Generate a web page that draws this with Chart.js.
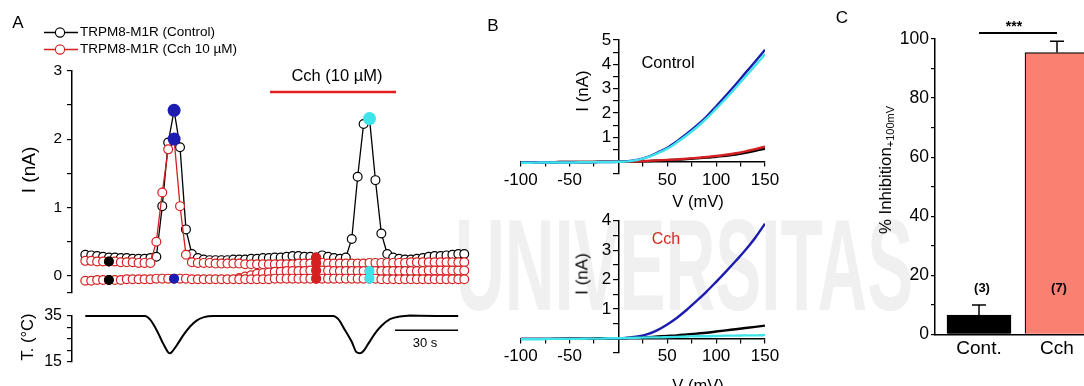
<!DOCTYPE html>
<html>
<head>
<meta charset="utf-8">
<title>TRPM8-M1R inhibition by carbachol</title>
<script src="https://cdn.jsdelivr.net/npm/chart.js@4.4.1/dist/chart.umd.min.js"></script>
<style>
  html, body { margin: 0; padding: 0; background: #fff; }
  body { position: relative; width: 1084px; height: 386px; overflow: hidden;
         font-family: 'Liberation Sans', Arial, sans-serif; color: #000; }
  canvas { position: absolute; left: 0; top: 0; }
  .lbl { position: absolute; transform: translate(-50%, -50%); white-space: nowrap; line-height: 1; }
  .rot { transform: translate(-50%, -50%) rotate(-90deg); }
  .wm { position: absolute; left: 455px; top: 200px; font-weight: bold; font-size: 130px; line-height: 1;
        color: #f0f0f0; transform-origin: 0 0; transform: scaleX(0.53); white-space: nowrap; }
  .key { position: absolute; left: 44px; }
  .keytxt { position: absolute; left: 80px; font-size: 13.5px; line-height: 1; transform: translateY(-50%); white-space: nowrap; }
</style>
</head>
<body>
<div class="wm">UNIVERSITAS</div>

<canvas id="chartA" width="1084" height="386"></canvas>
<canvas id="chartT" width="1084" height="386"></canvas>
<canvas id="chartB1" width="1084" height="386"></canvas>
<canvas id="chartB2" width="1084" height="386"></canvas>
<canvas id="chartC" width="1084" height="386"></canvas>

<!-- panel A annotations -->
<div class="lbl" style="left:18px;top:22px;font-size:17px">A</div>
<svg class="key" style="top:26px" width="36" height="13"><line x1="0" y1="6.5" x2="34" y2="6.5" stroke="#000" stroke-width="1.3"/><circle cx="16" cy="6.5" r="4.6" fill="#fff" stroke="#000" stroke-width="1.1"/></svg>
<div class="keytxt" style="top:32px">TRPM8-M1R (Control)</div>
<svg class="key" style="top:43px" width="36" height="13"><line x1="0" y1="6.5" x2="34" y2="6.5" stroke="#d42020" stroke-width="1.3"/><circle cx="16" cy="6.5" r="4.6" fill="#fff" stroke="#d42020" stroke-width="1.1"/></svg>
<div class="keytxt" style="top:49px">TRPM8-M1R (Cch 10 µM)</div>
<div class="lbl" style="left:337px;top:75px;font-size:16.5px">Cch (10 µM)</div>
<div class="lbl rot" style="left:28px;top:170px;font-size:19px">I (nA)</div>
<div class="lbl rot" style="left:27px;top:337px;font-size:16.5px">T. (°C)</div>
<div class="lbl" style="left:425px;top:342px;font-size:13px">30 s</div>

<!-- panel B annotations -->
<div class="lbl" style="left:493px;top:25px;font-size:17px">B</div>
<div class="lbl" style="left:668px;top:62px;font-size:16.5px">Control</div>
<div class="lbl rot" style="left:582px;top:91px;font-size:17px">I (nA)</div>
<div class="lbl" style="left:698px;top:201px;font-size:16.5px">V (mV)</div>
<div class="lbl" style="left:666px;top:239px;font-size:16px;color:#d42a1f">Cch</div>
<div class="lbl rot" style="left:582px;top:274px;font-size:17px">I (nA)</div>
<div class="lbl" style="left:698px;top:385px;font-size:16.5px">V (mV)</div>

<!-- panel C annotations -->
<div class="lbl" style="left:842px;top:17px;font-size:17px">C</div>
<div class="lbl rot" style="left:887px;top:170px;font-size:16.8px">% Inhibition<sub style="font-size:11px;vertical-align:-3px">+100mV</sub></div>
<div class="lbl" style="left:1014px;top:26px;font-size:14px;font-weight:bold">***</div>
<div class="lbl" style="left:982px;top:287px;font-size:13px;font-weight:bold">(3)</div>
<div class="lbl" style="left:1059px;top:287px;font-size:13px;font-weight:bold">(7)</div>

<script>
/* ----------------------------------------------------------
   Data – panel A, one value per sweep (every DT seconds)
   ---------------------------------------------------------- */
const DT = 2.82;

// +100 mV current, control cell (nA)
const ctrlUp = [
  0.31, 0.30, 0.29, 0.28, 0.27, 0.27, 0.26, 0.26, 0.25, 0.25,
  0.25, 0.26, 0.28, 1.02, 1.95, 2.42, 1.88, 0.68, 0.32, 0.26,
  0.24, 0.23, 0.23, 0.23, 0.23, 0.24, 0.24, 0.24, 0.25, 0.25,
  0.26, 0.26, 0.27, 0.27, 0.28, 0.29, 0.29, 0.28, 0.28, 0.27,
  0.30, 0.28, 0.26, 0.25, 0.27, 0.54, 1.45, 2.22, 2.30, 1.40,
  0.62, 0.32, 0.27, 0.25, 0.24, 0.24, 0.25, 0.26, 0.28, 0.29,
  0.29, 0.30, 0.31, 0.32, 0.32,
];

// +100 mV current, Cch cell (nA)
const cchUp = [
  0.22, 0.22, 0.21, 0.21, 0.21, 0.21, 0.20, 0.20, 0.20, 0.19,
  0.19, 0.19, 0.50, 1.22, 1.85, 2.00, 1.02, 0.31, 0.20, 0.19,
  0.19, 0.19, 0.18, 0.18, 0.18, 0.18, 0.18, 0.17, 0.17, 0.17,
  0.17, 0.17, 0.17, 0.17, 0.17, 0.17, 0.18, 0.18, 0.18, 0.19,
  0.19, 0.18, 0.18, 0.18, 0.18, 0.18, 0.18, 0.18, 0.19, 0.19,
  0.19, 0.19, 0.19, 0.19, 0.19, 0.20, 0.20, 0.20, 0.20, 0.20,
  0.20, 0.20, 0.20, 0.20, 0.20,
];

// low row that lifts off the baseline late in the record (nA)
const cchMid = [
  null, null, null, null, null, null, null, null, null, null,
  null, null, null, null, null, null, null, null, null, null,
  null, null, null, null, null, null, -0.03, -0.01, 0.01, 0.03,
  0.04, 0.05, 0.06, 0.06, 0.07, 0.07, 0.07, 0.07, 0.08, 0.08,
  0.08, 0.08, 0.07, 0.07, 0.07, 0.07, 0.07, 0.07, 0.07, 0.07,
  0.07, 0.07, 0.07, 0.07, 0.07, 0.07, 0.07, 0.07, 0.08, 0.08,
  0.08, 0.08, 0.08, 0.08, 0.08,
];

// -100 mV current (nA)
const cchDown = [
  -0.07, -0.07, -0.06, -0.06, -0.06, -0.06, -0.06, -0.05, -0.05, -0.05,
  -0.05, -0.05, -0.04, -0.04, -0.04, -0.04, -0.04, -0.04, -0.05, -0.05,
  -0.05, -0.05, -0.05, -0.05, -0.05, -0.05, -0.05, -0.05, -0.05, -0.05,
  -0.05, -0.05, -0.04, -0.04, -0.04, -0.04, -0.04, -0.04, -0.04, -0.04,
  -0.04, -0.04, -0.04, -0.04, -0.04, -0.04, -0.04, -0.04, -0.04, -0.04,
  -0.05, -0.05, -0.05, -0.05, -0.05, -0.05, -0.05, -0.05, -0.05, -0.05,
  -0.05, -0.05, -0.05, -0.05, -0.05,
];

// sweeps where the I-V curves of panel B were taken
const markIdx = { black: 4, blue: 15, red: 39, cyan: 48 };

// Cch application (s)
const cchPeriod = [88, 148];

// bath temperature
const tempTime = [0, 28.4, 30.8, 34.0, 37.1, 39.5, 40.3, 41.1, 43.5, 46.7, 49.9, 53.0, 56.2, 61.0, 72,
                  118.1, 120.5, 123.7, 126.9, 129.2, 130.8, 132.4, 134.8, 138.0, 141.1, 145.1, 149.9, 154.6, 177.6];
const tempVal  = [35, 35, 33.5, 28.8, 22.9, 19.1, 18.7, 19.1, 22.1, 26.6, 30.4, 33.0, 34.4, 35.0, 35.0,
                  35.0, 33.6, 28.8, 23.7, 19.1, 18.7, 19.6, 22.9, 27.4, 30.7, 33.6, 34.8, 35.2, 35.0];

/* ----------------------------------------------------------
   Data – panel B, I-V ramps (mV, nA)
   ---------------------------------------------------------- */
const ivV = [-100, -90, -80, -70, -60, -50, -40, -30, -20, -10, 0, 10, 20,
             30, 40, 50, 60, 70, 80, 90, 100, 110, 120, 130, 140, 150];

const ivCtlBlack = [-0.02, -0.02, -0.02, -0.02, -0.01, -0.01, -0.01, -0.01, 0, 0, 0, 0.01, 0.02,
                    0.03, 0.05, 0.07, 0.09, 0.11, 0.14, 0.17, 0.21, 0.25, 0.30, 0.37, 0.45, 0.54];
const ivCtlRed   = [-0.02, -0.02, -0.02, -0.02, -0.01, -0.01, -0.01, -0.01, 0, 0, 0, 0.01, 0.02,
                    0.04, 0.06, 0.08, 0.10, 0.13, 0.16, 0.20, 0.24, 0.29, 0.35, 0.43, 0.52, 0.62];
const ivCtlBlue  = [-0.03, -0.03, -0.03, -0.03, -0.02, -0.02, -0.02, -0.02, -0.01, -0.01, 0, 0.03, 0.09,
                    0.20, 0.38, 0.58, 0.85, 1.15, 1.48, 1.85, 2.28, 2.72, 3.17, 3.65, 4.12, 4.60];
const ivCtlCyan  = [-0.04, -0.04, -0.03, -0.03, -0.03, -0.03, -0.02, -0.02, -0.01, -0.01, 0, 0.02, 0.08,
                    0.19, 0.35, 0.54, 0.80, 1.09, 1.41, 1.77, 2.18, 2.60, 3.04, 3.50, 3.95, 4.42];

const ivCchBlue  = [-0.02, -0.02, -0.02, -0.02, -0.02, -0.01, -0.01, -0.01, -0.01, 0, 0, 0.02, 0.06,
                    0.14, 0.28, 0.47, 0.70, 0.97, 1.27, 1.58, 1.92, 2.27, 2.63, 3.00, 3.42, 3.90];
const ivCchBlack = [-0.02, -0.02, -0.02, -0.02, -0.01, -0.01, -0.01, -0.01, 0, 0, 0, 0.01, 0.02,
                    0.04, 0.06, 0.08, 0.10, 0.13, 0.16, 0.19, 0.23, 0.27, 0.31, 0.35, 0.39, 0.43];
const ivCchCyan  = [-0.03, -0.03, -0.03, -0.02, -0.02, -0.02, -0.02, -0.01, -0.01, 0, 0, 0.01, 0.02,
                    0.03, 0.03, 0.04, 0.05, 0.06, 0.07, 0.07, 0.08, 0.09, 0.09, 0.10, 0.10, 0.11];

/* ----------------------------------------------------------
   Data – panel C
   ---------------------------------------------------------- */
const barCats = ['Cont.', 'Cch'];
const barPos  = [1, 2];
const barMean = [6.5, 95.4];
const barSem  = [3.4, 3.8];

/* ----------------------------------------------------------
   Tick values
   ---------------------------------------------------------- */
const aTicks  = [-0.25, 0, 0.5, 1, 1.5, 2, 2.5, 3];
const aLabels = [0, 1, 2, 3];
const tTicks  = [15, 20, 25, 30, 35];
const tLabels = [15, 35];
const bxTicks  = [-100, -75, -50, -25, 25, 50, 75, 100, 125, 150];
const bxLabels = [-100, -50, 50, 100, 150];
const b1Ticks  = [-0.5, 0.5, 1, 1.5, 2, 2.5, 3, 3.5, 4, 4.5, 5];
const b2Ticks  = [-0.5, 0.5, 1, 1.5, 2, 2.5, 3, 3.5, 4];
const bLabels  = [1, 2, 3, 4, 5];
const cTicks   = [0, 10, 20, 30, 40, 50, 60, 70, 80, 90, 100];
const cLabels  = [0, 20, 40, 60, 80, 100];

/* ----------------------------------------------------------
   Look
   ---------------------------------------------------------- */
const COLORS = {
  black: '#000000',
  red:   '#d42020',
  blue:  '#1c1cb0',
  cyan:  '#3fe3ea',
  salmon:'#fa8072',
};
const W = 1084, H = 386;
const T_MIN = -6.33, T_MAX = 185.6;   // time window of panel A (s)
const Y_AXIS_W = 40;                  // room kept for left-hand axes

Chart.defaults.font.family = "'Liberation Sans', Arial, sans-serif";
Chart.defaults.color = '#000';
Chart.defaults.animation = false;
Chart.defaults.responsive = false;
Chart.defaults.events = [];
Chart.defaults.plugins.legend.display = false;
Chart.defaults.plugins.tooltip.enabled = false;

// chart area given in page pixels; yw = width of a left-hand axis
function area(l, t, r, b, yw = 0) {
  return { autoPadding: false, padding: { left: l - yw, top: t, right: W - r, bottom: H - b } };
}

function axis(o) {
  const a = {
    type: 'linear',
    axis: o.axis,
    display: true,
    offset: false,
    position: o.position,
    min: o.min,
    max: o.max,
    afterBuildTicks: (s) => { s.ticks = o.ticks.map(v => ({ value: v })); },
    border: { display: o.line !== false, color: '#000', width: 1.5 },
    grid: {
      display: o.line !== false, offset: false, drawOnChartArea: false, drawTicks: o.drawTicks !== false,
      tickLength: o.tickLength ?? 5, color: '#000', lineWidth: 1.2,
    },
    ticks: {
      autoSkip: false, maxRotation: 0, color: '#000',
      padding: o.padding ?? 4,
      font: { size: o.fontSize || 12 },
      callback: (v) => (o.labels.includes(v) ? (o.fmt ? o.fmt(v) : String(v)) : ''),
    },
  };
  if (o.width) a.afterFit = (s) => { s.width = o.width; };
  return a;
}

const hiddenTime = { type: 'linear', display: false, min: T_MIN, max: T_MAX };

/* ----------------------------------------------------------
   Panel A – current time course
   ---------------------------------------------------------- */
const sweepT = ctrlUp.map((_, i) => i * DT);
const xy = (ys) => ys.map((y, i) => ({ x: sweepT[i], y }));

function trace(ys, color, order) {
  return {
    data: xy(ys), showLine: true, order, spanGaps: false, clip: false,
    borderColor: color, borderWidth: 1.3,
    pointRadius: 4.4, pointBorderWidth: 1.2, pointBorderColor: color, pointBackgroundColor: '#fff',
  };
}

const series = { ctrlUp, cchUp, cchMid, cchDown };
const markSpec = [
  ['cchUp', 'black'], ['cchDown', 'black'],
  ['ctrlUp', 'blue', true], ['cchUp', 'blue', true], ['cchDown', 'blue'],
  ['ctrlUp', 'red'], ['cchUp', 'red'], ['cchMid', 'red'], ['cchDown', 'red'],
  ['ctrlUp', 'cyan', true], ['cchMid', 'cyan'], ['cchDown', 'cyan'],
];
const marks = markSpec.map(([name, key, big]) => ({
  x: sweepT[markIdx[key]], y: series[name][markIdx[key]],
  c: COLORS[key], r: big ? 6.5 : 5,
}));

const cchBarPlugin = {
  id: 'cchBar',
  afterDatasetsDraw(chart) {
    const { ctx, scales: { x, y } } = chart;
    const yy = y.getPixelForValue(2.69);
    ctx.save();
    ctx.strokeStyle = '#e02020';
    ctx.lineWidth = 2.5;
    ctx.beginPath();
    ctx.moveTo(x.getPixelForValue(cchPeriod[0]), yy);
    ctx.lineTo(x.getPixelForValue(cchPeriod[1]), yy);
    ctx.stroke();
    ctx.restore();
  },
};

new Chart(document.getElementById('chartA'), {
  type: 'scatter',
  data: {
    datasets: [
      {
        data: marks.map(m => ({ x: m.x, y: m.y })), order: 0, showLine: false, clip: false,
        pointRadius: marks.map(m => m.r), pointBorderWidth: 0,
        pointBackgroundColor: marks.map(m => m.c), pointBorderColor: marks.map(m => m.c),
      },
      trace(cchDown, COLORS.red, 1),
      trace(cchMid, COLORS.red, 2),
      trace(cchUp, COLORS.red, 3),
      trace(ctrlUp, COLORS.black, 4),
    ],
  },
  options: {
    layout: area(72, 70.7, 475, 293, Y_AXIS_W),
    scales: {
      x: hiddenTime,
      y: axis({ position: 'left', width: Y_AXIS_W, min: -0.25, max: 3, ticks: aTicks, labels: aLabels,
                fontSize: 15.5, tickLength: 5, padding: 5 }),
    },
  },
  plugins: [cchBarPlugin],
});

/* ----------------------------------------------------------
   Panel A – temperature trace and 30 s scale bar
   ---------------------------------------------------------- */
const scaleBarPlugin = {
  id: 'scaleBar',
  afterDatasetsDraw(chart) {
    const { ctx, scales: { x, y } } = chart;
    const yy = y.getPixelForValue(28.8);
    ctx.save();
    ctx.strokeStyle = '#000';
    ctx.lineWidth = 1.5;
    ctx.beginPath();
    ctx.moveTo(x.getPixelForValue(147.5), yy);
    ctx.lineTo(x.getPixelForValue(177.5), yy);
    ctx.stroke();
    ctx.restore();
  },
};

new Chart(document.getElementById('chartT'), {
  type: 'scatter',
  data: {
    datasets: [{
      data: tempTime.map((t, i) => ({ x: t, y: tempVal[i] })),
      showLine: true, pointRadius: 0, borderColor: '#000', borderWidth: 2,
      cubicInterpolationMode: 'monotone', clip: false,
    }],
  },
  options: {
    layout: area(72, 316, 475, 361.7, Y_AXIS_W),
    scales: {
      x: hiddenTime,
      y: axis({ position: 'left', width: Y_AXIS_W, min: 15, max: 35, ticks: tTicks, labels: tLabels,
                fontSize: 16, tickLength: 5, padding: 5 }),
    },
  },
  plugins: [scaleBarPlugin],
});

/* ----------------------------------------------------------
   Panel B – I-V curves (axes cross at the origin)
   ---------------------------------------------------------- */
function ivLine(ys, color) {
  return {
    data: ivV.map((v, i) => ({ x: v, y: ys[i] })),
    showLine: true, pointRadius: 0, borderColor: color, borderWidth: 2.4,
    cubicInterpolationMode: 'monotone',
  };
}

function ivChart(id, box, yMax, yTicks, datasets) {
  return new Chart(document.getElementById(id), {
    type: 'scatter',
    data: { datasets },
    options: {
      layout: area(...box),
      scales: {
        x: axis({ position: { y: 0 }, min: -100, max: 150, ticks: bxTicks, labels: bxLabels,
                  fontSize: 17, tickLength: 4, padding: 4 }),
        // axis line and ticks through V = 0
        y: axis({ axis: 'y', position: { x: 0 }, min: -0.5, max: yMax, ticks: yTicks, labels: [] }),
        // its numbers, set just left of the ticks
        yNum: axis({ axis: 'y', position: { x: -7.5 }, min: -0.5, max: yMax, ticks: yTicks,
                     labels: bLabels, fontSize: 17, line: false }),
      },
    },
  });
}

ivChart('chartB1', [520.7, 40, 765, 174], 5, b1Ticks, [
  ivLine(ivCtlCyan, COLORS.cyan),
  ivLine(ivCtlBlue, COLORS.blue),
  ivLine(ivCtlRed, COLORS.red),
  ivLine(ivCtlBlack, COLORS.black),
]);

ivChart('chartB2', [520.7, 220.7, 765, 353], 4, b2Ticks, [
  ivLine(ivCchCyan, COLORS.cyan),
  ivLine(ivCchBlack, COLORS.black),
  ivLine(ivCchBlue, COLORS.blue),
]);

/* ----------------------------------------------------------
   Panel C – % inhibition at +100 mV
   ---------------------------------------------------------- */
const errorBarPlugin = {
  id: 'errorBars',
  afterDatasetsDraw(chart) {
    const { ctx, scales: { x, y } } = chart;
    ctx.save();
    ctx.strokeStyle = '#000';
    ctx.lineWidth = 1.5;
    barMean.forEach((m, i) => {
      const px = x.getPixelForValue(barPos[i]);
      const y0 = y.getPixelForValue(m);
      const y1 = y.getPixelForValue(m + barSem[i]);
      ctx.beginPath();
      ctx.moveTo(px, y0); ctx.lineTo(px, y1);
      ctx.moveTo(px - 7, y1); ctx.lineTo(px + 7, y1);
      ctx.stroke();
    });
    // significance bracket
    const yb = y.getPixelForValue(102);
    ctx.lineWidth = 2;
    ctx.beginPath();
    ctx.moveTo(x.getPixelForValue(barPos[0]), yb);
    ctx.lineTo(x.getPixelForValue(barPos[1]), yb);
    ctx.stroke();
    ctx.restore();
  },
};

new Chart(document.getElementById('chartC'), {
  type: 'bar',
  data: {
    datasets: [{
      data: barPos.map((p, i) => ({ x: p, y: barMean[i] })),
      backgroundColor: [COLORS.black, COLORS.salmon],
      borderColor: '#000', borderWidth: 1.2,
      barThickness: 64,
    }],
  },
  options: {
    layout: area(935, 39, 1084, 334.3, Y_AXIS_W),
    scales: {
      x: axis({ position: { y: 0 }, min: 0.436, max: 2.346, ticks: barPos, labels: barPos,
                fmt: (v) => barCats[v - 1], fontSize: 19, drawTicks: false, padding: 3 }),
      y: axis({ position: 'left', width: Y_AXIS_W, min: 0, max: 100, ticks: cTicks, labels: cLabels,
                fontSize: 17.5, tickLength: 4, padding: 2 }),
    },
  },
  plugins: [errorBarPlugin],
});
</script>
</body>
</html>
